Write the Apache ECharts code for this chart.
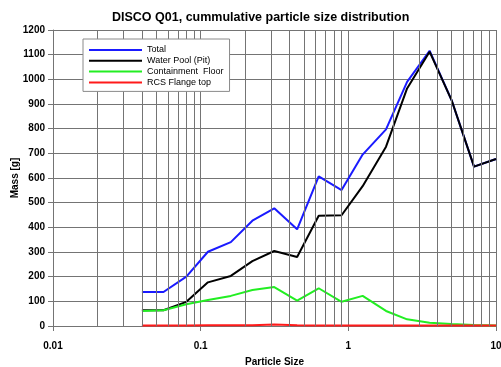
<!DOCTYPE html>
<html>
<head>
<meta charset="utf-8">
<script src="https://cdn.jsdelivr.net/npm/echarts@6/dist/echarts.min.js"></script>
<style>
  html, body { margin: 0; padding: 0; background: #fff; }
  #chart { width: 501px; height: 367px; }
</style>
</head>
<body>
<div id="chart"></div>
<script>
// particle size classes (log axis)
const sizes = [0.04, 0.056, 0.08, 0.112, 0.16, 0.224, 0.315, 0.45, 0.63, 0.9, 1.25, 1.8, 2.5, 3.55, 5, 7.1, 10];

// mass [g] per location
const total = [138, 138, 200, 301, 340, 427, 477, 392, 607, 551, 695, 797, 990, 1116, 916, 646, 677];
const waterPool = [64, 64, 98, 177, 203, 263, 304, 280, 447, 449, 567, 727, 963, 1112, 916, 646, 677];
const floor = [61, 64, 88, 105, 122, 146, 158, 103, 153, 98, 122, 61, 27, 13, 8, 4, 2];
const flange = [2, 2, 2, 3, 3, 3, 6, 3, 2, 2, 2, 2, 2, 2, 2, 2, 2];

// minor log grid lines between decades
const minorGrid = [0.02, 0.03, 0.04, 0.05, 0.06, 0.07, 0.08, 0.09,
  0.2, 0.3, 0.4, 0.5, 0.6, 0.7, 0.8, 0.9,
  2, 3, 4, 5, 6, 7, 8, 9];

const FONT = 'Liberation Sans, Arial, sans-serif';
const GRID_LINE = '#747474';

const chart = echarts.init(document.getElementById('chart'), null, { renderer: 'canvas' });

const pairs = arr => sizes.map((s, i) => [s, arr[i]]);

const lineSeries = (name, data, color) => ({
  name,
  type: 'line',
  data: pairs(data),
  symbol: 'none',
  z: 3,
  lineStyle: { color, width: 2 },
  itemStyle: { color },
});

chart.setOption({
  animation: false,
  backgroundColor: '#fff',
  title: {
    text: 'DISCO Q01, cummulative particle size distribution',
    left: 112,
    top: 11,
    padding: 0,
    textStyle: { fontFamily: FONT, fontSize: 12.5, fontWeight: 'bold', color: '#000' },
  },
  legend: {
    orient: 'vertical',
    left: 83,
    top: 39,
    z: 20,
    padding: [6, 6, 4, 6],
    icon: 'rect',
    itemWidth: 53,
    itemHeight: 2,
    itemGap: 0.8,
    backgroundColor: '#fff',
    borderColor: '#8a8a8a',
    borderWidth: 1,
    data: ['Total', 'Water Pool (Pit)', 'Containment  Floor', 'RCS Flange top'],
    textStyle: { fontFamily: FONT, fontSize: 9, color: '#000', lineHeight: 10 },
  },
  grid: { left: 53, right: 5, top: 30, bottom: 41, outerBoundsMode: 'none' },
  xAxis: {
    type: 'log',
    logBase: 10,
    min: 0.01,
    max: 10,
    name: 'Particle Size',
    nameLocation: 'middle',
    nameGap: 31,
    nameTextStyle: { fontFamily: FONT, fontSize: 10, fontWeight: 'bold', color: '#000' },
    axisLine: { lineStyle: { color: GRID_LINE } },
    axisTick: { show: true, length: 5, lineStyle: { color: GRID_LINE } },
    axisLabel: { fontFamily: FONT, fontSize: 10, fontWeight: 'bold', color: '#000', margin: 15 },
    splitLine: { show: true, lineStyle: { color: GRID_LINE, width: 1 } },
  },
  yAxis: {
    type: 'value',
    min: 0,
    max: 1200,
    interval: 100,
    name: 'Mass [g]',
    nameLocation: 'middle',
    nameGap: 33,
    nameMoveOverlap: false,
    nameTextStyle: { fontFamily: FONT, fontSize: 10, fontWeight: 'bold', color: '#000' },
    axisLine: { show: true, lineStyle: { color: GRID_LINE } },
    axisTick: { show: true, length: 5, lineStyle: { color: GRID_LINE } },
    axisLabel: {
      fontFamily: FONT, fontSize: 10, fontWeight: 'bold', color: '#000', margin: 8,
      formatter: v => String(v),
    },
    splitLine: { show: true, lineStyle: { color: GRID_LINE, width: 1 } },
  },
  series: [
    {
      type: 'line',
      data: [],
      z: 1,
      silent: true,
      markLine: {
        silent: true,
        symbol: 'none',
        label: { show: false },
        lineStyle: { color: GRID_LINE, width: 1, type: 'solid' },
        data: minorGrid.map(v => ({ xAxis: v })),
      },
    },
    lineSeries('Total', total, '#1a1aff'),
    lineSeries('Water Pool (Pit)', waterPool, '#000000'),
    lineSeries('Containment  Floor', floor, '#22ee22'),
    lineSeries('RCS Flange top', flange, '#ff1a1a'),
  ],
});
</script>
</body>
</html>
